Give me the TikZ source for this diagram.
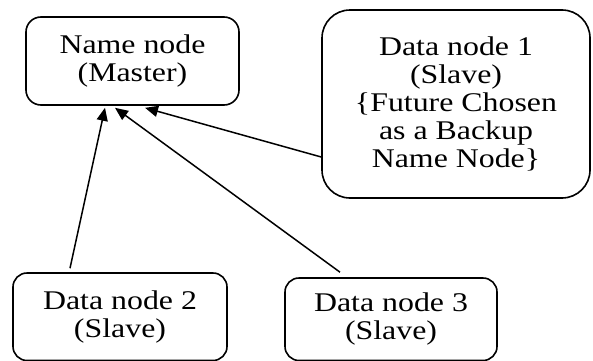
\documentclass[tikz,border=0pt]{standalone}
\usepackage{fontspec}
\setmainfont{Liberation Serif}[FakeStretch=1.18]
\usetikzlibrary{arrows.meta}
\tikzset{
  box/.style={draw, line width=1.6pt, rectangle, inner sep=0pt, align=center,
    font=\fontsize{27}{28}\selectfont},
  conn/.style={line width=1.5pt, -{Triangle[length=13pt,width=11pt]}}
}
\begin{document}
\begin{tikzpicture}[x=1pt,y=1pt]
\useasboundingbox (0,0) rectangle (593,360);
\node[box, rounded corners=15pt, minimum width=213pt, minimum height=88pt] (nn) at (132.5,299) {Name node\\(Master)};
\node[box, rounded corners=28pt, minimum width=268pt, minimum height=188pt] (d1) at (456,256) {Data node 1\\(Slave)\\\{Future Chosen\\as a Backup\\Name Node\}};
\node[box, rounded corners=14pt, minimum width=214pt, minimum height=87.5pt] (d2) at (120,43.25) {Data node 2\\(Slave)};
\node[box, rounded corners=14pt, minimum width=212pt, minimum height=82.5pt] (d3) at (391,40.75) {Data node 3\\(Slave)};
\draw[conn] ([xshift=-50pt,yshift=4pt]d2.north) -- ([xshift=-27.5pt,yshift=-2pt]nn.south);
\draw[conn] ([xshift=-51pt,yshift=5pt]d3.north) -- ([xshift=-17.5pt,yshift=-2pt]nn.south);
\draw[conn] ([yshift=-53pt]d1.west) -- ([xshift=12.5pt,yshift=-2pt]nn.south);
\end{tikzpicture}
\end{document}
